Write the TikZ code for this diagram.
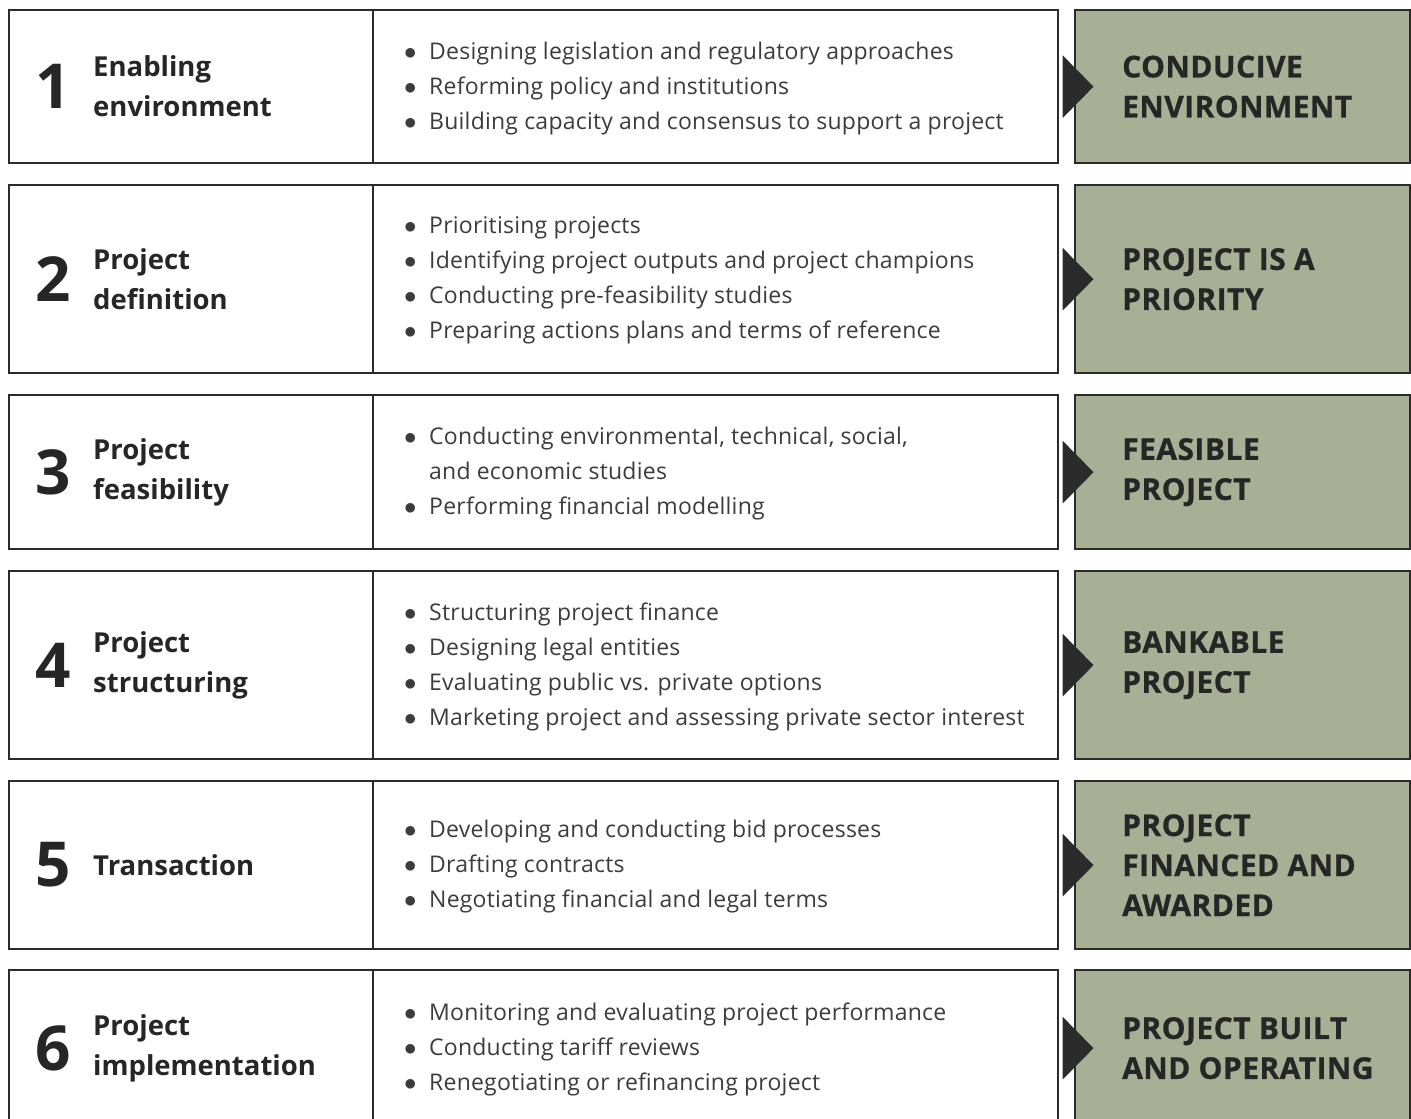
\documentclass[tikz,border=0pt]{standalone}
\usepackage{fontspec}
\setmainfont{Open Sans}
\usetikzlibrary{shapes.geometric,positioning}
\definecolor{ink}{HTML}{262626}
\definecolor{rule}{HTML}{2B2B2B}
\definecolor{sage}{HTML}{A7B094}
% bullet column of the task lists
\newcommand{\itm}{\makebox[25pt][l]{$\bullet$}}
\newcommand{\ind}{\hspace*{25pt}}
\tikzset{
    every picture/.style={line join=miter},
    stagecell/.style={draw=rule,fill=white,line width=2.3pt,inner sep=0pt,
      anchor=north west},
    outcomecell/.style={stagecell,fill=sage},
    stagenum/.style={font=\fontsize{62}{62}\selectfont\bfseries,text=ink,
      inner sep=0pt,anchor=west},
    stagename/.style={font=\fontsize{27.5}{40}\selectfont\bfseries,text=ink,
      align=left,inner sep=0pt,anchor=west},
    tasklist/.style={font=\fontsize{23}{35}\selectfont\addfontfeatures{LetterSpace=1},
      text=ink!90,align=left,inner sep=0pt,anchor=west,yshift=-1.5pt},
    outcome/.style={font=\fontsize{30}{40}\selectfont\bfseries\addfontfeatures{LetterSpace=1.5,FakeBold=0.8},
      text=ink,align=left,inner sep=0pt,anchor=west},
    pointer/.style={isosceles triangle,isosceles triangle stretches,fill=rule,
      minimum width=63pt,minimum height=31pt,inner sep=0pt,anchor=lower side}
}

\begin{document}
\begin{tikzpicture}[x=1pt,y=-1pt]
  \useasboundingbox (0,0) rectangle (1411,1119);

  % stage 1
  \node[stagecell,minimum width=364pt,minimum height=153pt] (lab1) at (8,9) {};
  \node[stagecell,minimum width=685pt,minimum height=153pt] (act1) at (372,9) {};
  \node[outcomecell,minimum width=335pt,minimum height=153pt] (out1) at (1074,9) {};
  \node[pointer] (arr1) at ([xshift=3pt]act1.east) {};
  \node[stagenum] (num1) at ([xshift=27pt]lab1.west) {1};
  \node[stagename] (name1) at ([xshift=85pt]lab1.west) {Enabling\\environment};
  \node[tasklist] (task1) at ([xshift=32pt]act1.west) {
    \itm Designing legislation and regulatory approaches\\
    \itm Reforming policy and institutions\\
    \itm Building capacity and consensus to support a project};
  \node[outcome] (res1) at ([xshift=48pt]out1.west) {CONDUCIVE\\ENVIRONMENT};

  % stage 2
  \node[stagecell,minimum width=364pt,minimum height=188pt] (lab2) at (8,184) {};
  \node[stagecell,minimum width=685pt,minimum height=188pt] (act2) at (372,184) {};
  \node[outcomecell,minimum width=335pt,minimum height=188pt] (out2) at (1074,184) {};
  \node[pointer] (arr2) at ([xshift=3pt]act2.east) {};
  \node[stagenum] (num2) at ([xshift=27pt]lab2.west) {2};
  \node[stagename] (name2) at ([xshift=85pt]lab2.west) {Project\\definition};
  \node[tasklist] (task2) at ([xshift=32pt]act2.west) {
    \itm Prioritising projects\\
    \itm Identifying project outputs and project champions\\
    \itm Conducting pre-feasibility studies\\
    \itm Preparing actions plans and terms of reference};
  \node[outcome] (res2) at ([xshift=48pt]out2.west) {PROJECT IS A\\PRIORITY};

  % stage 3
  \node[stagecell,minimum width=364pt,minimum height=154pt] (lab3) at (8,394) {};
  \node[stagecell,minimum width=685pt,minimum height=154pt] (act3) at (372,394) {};
  \node[outcomecell,minimum width=335pt,minimum height=154pt] (out3) at (1074,394) {};
  \node[pointer] (arr3) at ([xshift=3pt]act3.east) {};
  \node[stagenum] (num3) at ([xshift=27pt]lab3.west) {3};
  \node[stagename] (name3) at ([xshift=85pt]lab3.west) {Project\\feasibility};
  \node[tasklist] (task3) at ([xshift=32pt]act3.west) {
    \itm Conducting environmental, technical, social,\\
    \ind and economic studies\\
    \itm Performing financial modelling};
  \node[outcome] (res3) at ([xshift=48pt]out3.west) {FEASIBLE\\PROJECT};

  % stage 4
  \node[stagecell,minimum width=364pt,minimum height=188pt] (lab4) at (8,570) {};
  \node[stagecell,minimum width=685pt,minimum height=188pt] (act4) at (372,570) {};
  \node[outcomecell,minimum width=335pt,minimum height=188pt] (out4) at (1074,570) {};
  \node[pointer] (arr4) at ([xshift=3pt]act4.east) {};
  \node[stagenum] (num4) at ([xshift=27pt]lab4.west) {4};
  \node[stagename] (name4) at ([xshift=85pt]lab4.west) {Project\\structuring};
  \node[tasklist] (task4) at ([xshift=32pt]act4.west) {
    \itm Structuring project finance\\
    \itm Designing legal entities\\
    \itm Evaluating public vs. private options\\
    \itm Marketing project and assessing private sector interest};
  \node[outcome] (res4) at ([xshift=48pt]out4.west) {BANKABLE\\PROJECT};

  % stage 5
  \node[stagecell,minimum width=364pt,minimum height=168pt] (lab5) at (8,780) {};
  \node[stagecell,minimum width=685pt,minimum height=168pt] (act5) at (372,780) {};
  \node[outcomecell,minimum width=335pt,minimum height=168pt] (out5) at (1074,780) {};
  \node[pointer] (arr5) at ([xshift=3pt]act5.east) {};
  \node[stagenum] (num5) at ([xshift=27pt]lab5.west) {5};
  \node[stagename] (name5) at ([xshift=85pt]lab5.west) {Transaction};
  \node[tasklist] (task5) at ([xshift=32pt]act5.west) {
    \itm Developing and conducting bid processes\\
    \itm Drafting contracts\\
    \itm Negotiating financial and legal terms};
  \node[outcome] (res5) at ([xshift=48pt]out5.west) {PROJECT\\FINANCED AND\\AWARDED};

  % stage 6 (runs past the lower edge)
  \node[stagecell,minimum width=364pt,minimum height=156pt] (lab6) at (8,969) {};
  \node[stagecell,minimum width=685pt,minimum height=156pt] (act6) at (372,969) {};
  \node[outcomecell,minimum width=335pt,minimum height=156pt] (out6) at (1074,969) {};
  \node[pointer] (arr6) at ([xshift=3pt]act6.east) {};
  \node[stagenum] (num6) at ([xshift=27pt]lab6.west) {6};
  \node[stagename] (name6) at ([xshift=85pt]lab6.west) {Project\\implementation};
  \node[tasklist] (task6) at ([xshift=32pt]act6.west) {
    \itm Monitoring and evaluating project performance\\
    \itm Conducting tariff reviews\\
    \itm Renegotiating or refinancing project};
  \node[outcome] (res6) at ([xshift=48pt]out6.west) {PROJECT BUILT\\AND OPERATING};
\end{tikzpicture}
\end{document}
